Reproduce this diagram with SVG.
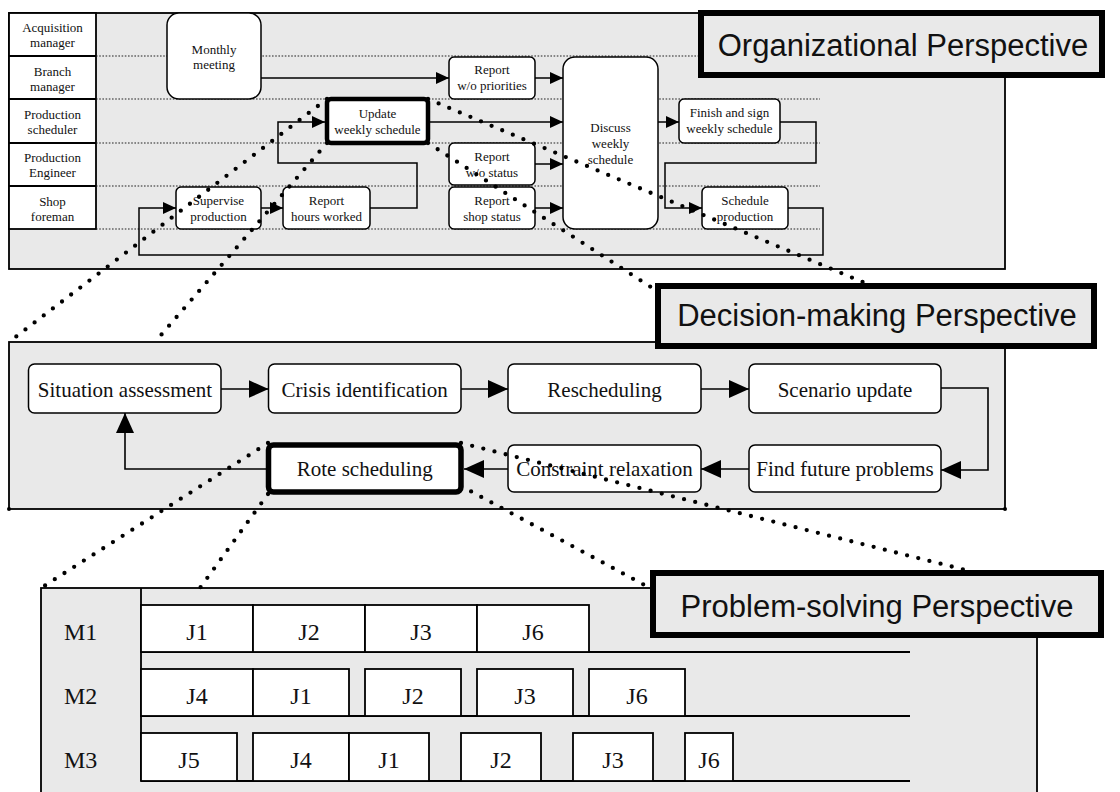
<svg xmlns="http://www.w3.org/2000/svg" width="1120" height="792" viewBox="0 0 1120 792">
<style>
.panel{fill:#e9e9e9;stroke:#000;stroke-width:1.8}
.node{fill:#fff;stroke:#000;stroke-width:1.5}
.thick{fill:#fff;stroke:#000;stroke-width:4.5}
.lane{stroke:#222;stroke-width:1.2;stroke-dasharray:1.6 1.6;fill:none}
.conn{fill:none;stroke:#000;stroke-width:1.5}
.conn2{fill:none;stroke:#000;stroke-width:1.6}
.dots{fill:none;stroke:#000;stroke-width:4.3;stroke-linecap:round;stroke-dasharray:0 11.5}
.t13{font-family:"Liberation Serif","Times New Roman",serif;font-size:13px;text-anchor:middle;fill:#111}
.t21{font-family:"Liberation Serif","Times New Roman",serif;font-size:21px;text-anchor:middle;fill:#111}
.t24{font-family:"Liberation Serif","Times New Roman",serif;font-size:24px;text-anchor:middle;fill:#111}
.title{fill:#e9e9e9;stroke:#000;stroke-width:6}
.tt{font-family:"Liberation Sans",Arial,sans-serif;font-size:31px;text-anchor:middle;fill:#111}
.job{fill:#fff;stroke:#000;stroke-width:1.8}
.axis{stroke:#000;stroke-width:1.8;fill:none}
</style>
<defs>
<marker id="a1" markerUnits="userSpaceOnUse" markerWidth="14" markerHeight="12" refX="13" refY="6" orient="auto"><path d="M0,0 L13,6 L0,12 z" fill="#000"/></marker>
<marker id="a2" markerUnits="userSpaceOnUse" markerWidth="21" markerHeight="18" refX="20" refY="9" orient="auto"><path d="M0,0 L20,9 L0,18 z" fill="#000"/></marker>
</defs>

<!-- Organizational panel -->
<g id="org-panel">
<rect class="panel" x="9" y="13" width="996" height="256"/>
<rect x="9" y="13" width="87" height="216" fill="#fff" stroke="#000" stroke-width="1.8"/>
<path d="M9,56 H96 M9,99 H96 M9,143 H96 M9,186 H96" stroke="#000" stroke-width="1.8"/>
<path class="lane" d="M96,56 H698 M96,99 H820 M96,143 H820 M96,186 H820 M96,229 H820"/>
<text class="t13" x="52.5" y="32">Acquisition</text><text class="t13" x="52.5" y="47">manager</text>
<text class="t13" x="52.5" y="76">Branch</text><text class="t13" x="52.5" y="91">manager</text>
<text class="t13" x="52.5" y="119">Production</text><text class="t13" x="52.5" y="134">scheduler</text>
<text class="t13" x="52.5" y="162">Production</text><text class="t13" x="52.5" y="177">Engineer</text>
<text class="t13" x="52.5" y="206">Shop</text><text class="t13" x="52.5" y="221">foreman</text>
</g>

<g id="monthly-meeting"><rect class="node" x="167" y="13" width="94" height="86" rx="12"/><text class="t13" x="214" y="54">Monthly</text><text class="t13" x="214" y="69">meeting</text></g>
<g id="report-wo-priorities"><rect class="node" x="449" y="57" width="86" height="42" rx="5"/><text class="t13" x="492" y="74">Report</text><text class="t13" x="492" y="90">w/o priorities</text></g>
<g id="update-weekly-schedule"><rect class="thick" x="327" y="99" width="101" height="44" rx="4"/><text class="t13" x="377.5" y="118">Update</text><text class="t13" x="377.5" y="134">weekly schedule</text></g>
<g id="discuss-weekly-schedule"><rect class="node" x="563" y="57" width="95" height="172" rx="12"/><text class="t13" x="610.5" y="132">Discuss</text><text class="t13" x="610.5" y="148">weekly</text><text class="t13" x="610.5" y="164">schedule</text></g>
<g id="report-wo-status"><rect class="node" x="449" y="143" width="86" height="42" rx="5"/><text class="t13" x="492" y="161">Report</text><text class="t13" x="492" y="177">w/o status</text></g>
<g id="report-shop-status"><rect class="node" x="449" y="187" width="86" height="42" rx="5"/><text class="t13" x="492" y="205">Report</text><text class="t13" x="492" y="221">shop status</text></g>
<g id="supervise-production"><rect class="node" x="176" y="187" width="85" height="42" rx="5"/><text class="t13" x="218.5" y="205">Supervise</text><text class="t13" x="218.5" y="221">production</text></g>
<g id="report-hours-worked"><rect class="node" x="283" y="187" width="87" height="42" rx="5"/><text class="t13" x="326.5" y="205">Report</text><text class="t13" x="326.5" y="221">hours worked</text></g>
<g id="finish-and-sign"><rect class="node" x="679" y="99" width="101" height="44" rx="5"/><text class="t13" x="729.5" y="117">Finish and sign</text><text class="t13" x="729.5" y="133">weekly schedule</text></g>
<g id="schedule-production"><rect class="node" x="702" y="187" width="86" height="42" rx="5"/><text class="t13" x="745" y="205">Schedule</text><text class="t13" x="745" y="221">production</text></g>

<!-- Decision panel -->
<g id="dm-panel"><rect class="panel" x="9" y="342" width="996" height="167"/></g>
<g id="situation-assessment"><rect class="node" x="28.5" y="364" width="192.5" height="49" rx="6"/><text class="t21" x="125" y="396.5">Situation assessment</text></g>
<g id="crisis-identification"><rect class="node" x="268.5" y="364" width="192.5" height="49" rx="6"/><text class="t21" x="364.7" y="396.5">Crisis identification</text></g>
<g id="rescheduling"><rect class="node" x="508" y="364" width="193" height="49" rx="6"/><text class="t21" x="604.5" y="396.5">Rescheduling</text></g>
<g id="scenario-update"><rect class="node" x="749" y="364" width="192" height="49" rx="6"/><text class="t21" x="845" y="396.5">Scenario update</text></g>
<g id="find-future-problems"><rect class="node" x="749" y="445" width="192" height="47" rx="6"/><text class="t21" x="845" y="476">Find future problems</text></g>
<g id="constraint-relaxation"><rect class="node" x="508" y="445" width="193" height="47" rx="6"/><text class="t21" x="604.5" y="476">Constraint relaxation</text></g>
<g id="rote-scheduling"><rect x="268.5" y="445" width="192.5" height="47" rx="5" fill="#fff" stroke="#000" stroke-width="5.5"/><text class="t21" x="364.7" y="476">Rote scheduling</text></g>

<!-- Problem-solving panel -->
<g id="ps-panel">
<rect class="panel" x="41" y="588" width="996" height="220"/>
<path class="axis" d="M141,588 V781 M141,652 H910 M141,716 H910 M141,781 H910"/>
<text class="t24" x="64" y="640" style="text-anchor:start">M1</text>
<text class="t24" x="64" y="704" style="text-anchor:start">M2</text>
<text class="t24" x="64" y="768" style="text-anchor:start">M3</text>
</g>
<g id="m1-jobs">
<rect class="job" x="141" y="605" width="112" height="47"/><text class="t24" x="197" y="640">J1</text>
<rect class="job" x="253" y="605" width="112" height="47"/><text class="t24" x="309" y="640">J2</text>
<rect class="job" x="365" y="605" width="112" height="47"/><text class="t24" x="421" y="640">J3</text>
<rect class="job" x="477" y="605" width="112" height="47"/><text class="t24" x="533" y="640">J6</text>
</g>
<g id="m2-jobs">
<rect class="job" x="141" y="669" width="112" height="47"/><text class="t24" x="197" y="704">J4</text>
<rect class="job" x="253" y="669" width="96" height="47"/><text class="t24" x="301" y="704">J1</text>
<rect class="job" x="365" y="669" width="96" height="47"/><text class="t24" x="413" y="704">J2</text>
<rect class="job" x="477" y="669" width="96" height="47"/><text class="t24" x="525" y="704">J3</text>
<rect class="job" x="589" y="669" width="96" height="47"/><text class="t24" x="637" y="704">J6</text>
</g>
<g id="m3-jobs">
<rect class="job" x="141" y="733" width="96" height="48"/><text class="t24" x="189" y="768">J5</text>
<rect class="job" x="253" y="733" width="96" height="48"/><text class="t24" x="301" y="768">J4</text>
<rect class="job" x="349" y="733" width="80" height="48"/><text class="t24" x="389" y="768">J1</text>
<rect class="job" x="461" y="733" width="80" height="48"/><text class="t24" x="501" y="768">J2</text>
<rect class="job" x="573" y="733" width="80" height="48"/><text class="t24" x="613" y="768">J3</text>
<rect class="job" x="685" y="733" width="48" height="48"/><text class="t24" x="709" y="768">J6</text>
</g>

<!-- connectors -->
<g id="connectors">
<path class="conn" marker-end="url(#a1)" d="M261,78 H449"/>
<path class="conn" marker-end="url(#a1)" d="M535,78 H563"/>
<path class="conn" marker-end="url(#a1)" d="M370,208 H417 V163 H278 V122 H325"/>
<path class="conn" marker-end="url(#a1)" d="M430,122 H563"/>
<path class="conn" marker-end="url(#a1)" d="M535,164 H563"/>
<path class="conn" marker-end="url(#a1)" d="M535,208 H563"/>
<path class="conn" marker-end="url(#a1)" d="M658,122 H679"/>
<path class="conn" marker-end="url(#a1)" d="M780,122 H816 V163 H665 V208 H702"/>
<path class="conn" marker-end="url(#a1)" d="M788,208 H823 V255 H139 V208 H176"/>
<path class="conn" marker-end="url(#a1)" d="M261,208 H283"/>
<path class="conn2" marker-end="url(#a2)" d="M221,389 H268.5"/>
<path class="conn2" marker-end="url(#a2)" d="M461,389 H508"/>
<path class="conn2" marker-end="url(#a2)" d="M701,389 H749"/>
<path class="conn2" marker-end="url(#a2)" d="M941,388 H988 V470 H941"/>
<path class="conn2" marker-end="url(#a2)" d="M749,469 H701"/>
<path class="conn2" marker-end="url(#a2)" d="M508,469 H464"/>
<path class="conn2" marker-end="url(#a2)" d="M266,469 H125 V413"/>
</g>

<!-- zoom dotted lines -->
<g id="zoom-lines">
<path class="dots" d="M327,99 L9,342"/>
<path class="dots" d="M327,143 L155,342"/>
<path class="dots" d="M428,99 L1005,342"/>
<path class="dots" d="M428,143 L736,342"/>
<path class="dots" d="M268,443 L41,588"/>
<path class="dots" d="M268,494 L200,588"/>
<path class="dots" d="M461,443 L1037,588"/>
<path class="dots" d="M461,486 L650,588"/>
<circle cx="9" cy="509" r="2"/><circle cx="1005" cy="509" r="2"/>
</g>

<!-- title boxes -->
<g id="title-org"><rect class="title" x="701" y="13" width="401" height="62"/><text class="tt" x="903" y="56">Organizational Perspective</text></g>
<g id="title-dm"><rect class="title" x="658" y="286" width="436" height="60"/><text class="tt" x="877" y="326">Decision-making Perspective</text></g>
<g id="title-ps"><rect class="title" x="653" y="573" width="448" height="62"/><text class="tt" x="877" y="617">Problem-solving Perspective</text></g>
</svg>
